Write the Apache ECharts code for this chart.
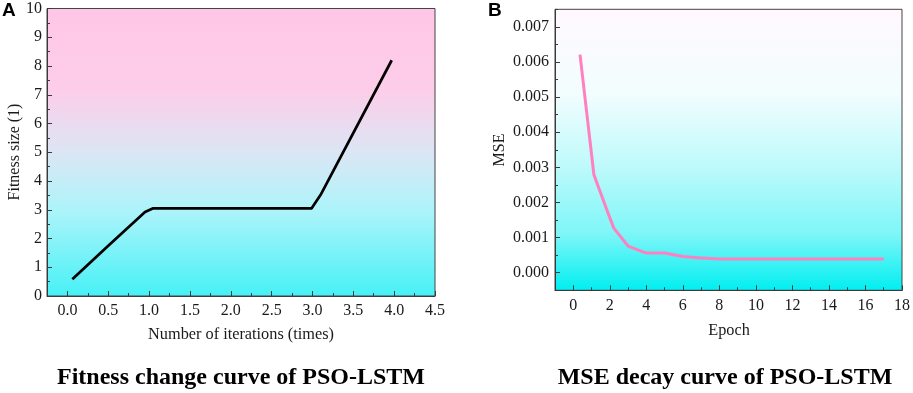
<!DOCTYPE html>
<html>
<head>
<meta charset="utf-8">
<script src="https://cdn.jsdelivr.net/npm/echarts@6/dist/echarts.min.js"></script>
<style>
html,body{margin:0;padding:0;background:#fff;}
#c{width:913px;height:393px;}
</style>
</head>
<body>
<div id="c"></div>
<script>
// Panel A: fitness
const fitX = [0.06, 0.5, 0.95, 1.05, 2.99, 3.1, 3.97];
const fitY = [0.58, 1.75, 2.92, 3.05, 3.05, 3.52, 8.2];
const fitXTicks = [0, 0.5, 1, 1.5, 2, 2.5, 3, 3.5, 4, 4.5];
const fitYTicks = [0, 1, 2, 3, 4, 5, 6, 7, 8, 9, 10];
// Panel B: MSE
const mseX = [0.37, 1.13, 1.91, 2.22, 3.0, 4.0, 5.0, 6.0, 7.0, 8.0, 9, 10, 11, 12, 13, 14, 15, 16, 17];
const mseY = [0.00621, 0.00279, 0.00169, 0.00127, 0.00076, 0.00056, 0.00056, 0.00046, 0.00042, 0.00039, 0.00039, 0.00039, 0.00039, 0.00039, 0.00039, 0.00039, 0.00039, 0.00039, 0.00039];
const mseXTicks = [0, 2, 4, 6, 8, 10, 12, 14, 16, 18];
const mseYTicks = [0, 0.001, 0.002, 0.003, 0.004, 0.005, 0.006, 0.007];

const serif = '"Liberation Serif", "Times New Roman", serif';
const axisColor = '#3a3a3a';

function mainAxis(extra) {
  return Object.assign({
    type: 'value',
    splitLine: { show: false },
    axisLine: { show: true, onZero: false, lineStyle: { color: axisColor, width: 1 } },
    axisTick: { show: true, inside: true, length: 5, lineStyle: { color: axisColor } },
    axisLabel: { fontFamily: serif, fontSize: 16, color: '#1a1a1a' }
  }, extra);
}
function minorAxis(extra) {
  return Object.assign({
    type: 'value',
    splitLine: { show: false },
    axisLine: { show: false, onZero: false },
    axisLabel: { show: false },
    axisTick: { show: true, inside: true, length: 3, lineStyle: { color: axisColor } }
  }, extra);
}

const chart = echarts.init(document.getElementById('c'), null, { renderer: 'canvas' });
const option = {
  animation: false,
  grid: [
    {
      left: 47, top: 8.5, width: 388, height: 287.5, show: true,
      borderColor: '#444', borderWidth: 1,
      backgroundColor: new echarts.graphic.LinearGradient(0, 0, 0, 1, [
        { offset: 0, color: '#FFC6E6' },
        { offset: 0.28, color: '#FDCDE9' },
        { offset: 0.5, color: '#DCE6F5' },
        { offset: 0.7, color: '#ADF4FA' },
        { offset: 1, color: '#46F1F6' }
      ])
    },
    {
      left: 555, top: 9.3, width: 349, height: 281, show: true,
      borderColor: '#444', borderWidth: 1,
      backgroundColor: new echarts.graphic.LinearGradient(0, 0, 0, 1, [
        { offset: 0, color: '#FFF8FE' },
        { offset: 0.3, color: '#F2FDFE' },
        { offset: 0.55, color: '#C0FAFB' },
        { offset: 0.8, color: '#7DF6F8' },
        { offset: 1, color: '#00EEF0' }
      ])
    }
  ],
  xAxis: [
    mainAxis({ gridIndex: 0, position: 'bottom', min: -0.25, max: 4.5,
      axisTick: { show: true, inside: true, length: 5, customValues: fitXTicks, lineStyle: { color: axisColor } },
      axisLabel: { fontFamily: serif, fontSize: 16, color: '#1a1a1a', margin: 7, customValues: fitXTicks,
        formatter: v => v.toFixed(1) } }),
    minorAxis({ gridIndex: 0, position: 'bottom', min: -0.25, max: 4.5, interval: 0.25 }),
    mainAxis({ gridIndex: 1, position: 'bottom', min: -1, max: 18,
      axisTick: { show: true, inside: true, length: 5, customValues: mseXTicks, lineStyle: { color: axisColor } },
      axisLabel: { fontFamily: serif, fontSize: 16, color: '#1a1a1a', margin: 7, customValues: mseXTicks,
        formatter: v => String(Math.round(v)) } }),
    minorAxis({ gridIndex: 1, position: 'bottom', min: -1, max: 18, interval: 1 })
  ],
  yAxis: [
    mainAxis({ gridIndex: 0, position: 'left', min: 0, max: 10,
      axisTick: { show: true, inside: true, length: 5, customValues: fitYTicks, lineStyle: { color: axisColor } },
      axisLabel: { fontFamily: serif, fontSize: 16, color: '#1a1a1a', margin: 5, customValues: fitYTicks,
        formatter: v => String(Math.round(v)) } }),
    minorAxis({ gridIndex: 0, position: 'left', min: 0, max: 10, interval: 0.5 }),
    mainAxis({ gridIndex: 1, position: 'left', min: -0.0005, max: 0.0075,
      axisTick: { show: true, inside: true, length: 5, customValues: mseYTicks, lineStyle: { color: axisColor } },
      axisLabel: { fontFamily: serif, fontSize: 16, color: '#1a1a1a', margin: 6, customValues: mseYTicks,
        formatter: v => v.toFixed(3) } }),
    minorAxis({ gridIndex: 1, position: 'left', min: -0.0005, max: 0.0075, interval: 0.0005 })
  ],
  series: [
    {
      type: 'line', xAxisIndex: 0, yAxisIndex: 0, symbol: 'none',
      data: fitX.map((x, i) => [x, fitY[i]]),
      lineStyle: { color: '#000', width: 2.7, join: 'round' }
    },
    {
      type: 'line', xAxisIndex: 2, yAxisIndex: 2, symbol: 'none',
      data: mseX.map((x, i) => [x, mseY[i]]),
      lineStyle: { color: '#FF80C0', width: 3, join: 'round' }
    }
  ],
  graphic: [
    { type: 'text', left: 2, top: 1, style: { text: 'A', font: 'bold 19px "Liberation Sans", Arial, sans-serif', fill: '#000' } },
    { type: 'text', left: 488, top: 1, style: { text: 'B', font: 'bold 19px "Liberation Sans", Arial, sans-serif', fill: '#000' } },
    { type: 'text', x: 241, y: 335, style: { text: 'Number of iterations (times)', font: '16.3px ' + serif, fill: '#1a1a1a', align: 'center', verticalAlign: 'middle' } },
    { type: 'text', x: 729, y: 331, style: { text: 'Epoch', font: '16.3px ' + serif, fill: '#1a1a1a', align: 'center', verticalAlign: 'middle' } },
    { type: 'text', x: 15, y: 152, rotation: Math.PI / 2, style: { text: 'Fitness size (1)', font: '16px ' + serif, fill: '#1a1a1a', align: 'center', verticalAlign: 'middle' } },
    { type: 'text', x: 500, y: 150, rotation: Math.PI / 2, style: { text: 'MSE', font: '16px ' + serif, fill: '#1a1a1a', align: 'center', verticalAlign: 'middle' } },
    { type: 'text', x: 241, y: 378, style: { text: 'Fitness change curve of PSO-LSTM', font: 'bold 24px ' + serif, fill: '#000', align: 'center', verticalAlign: 'middle' } },
    { type: 'text', x: 725, y: 378, style: { text: 'MSE decay curve of PSO-LSTM', font: 'bold 24px ' + serif, fill: '#000', align: 'center', verticalAlign: 'middle' } }
  ]
};
chart.setOption(option);
</script>
</body>
</html>
